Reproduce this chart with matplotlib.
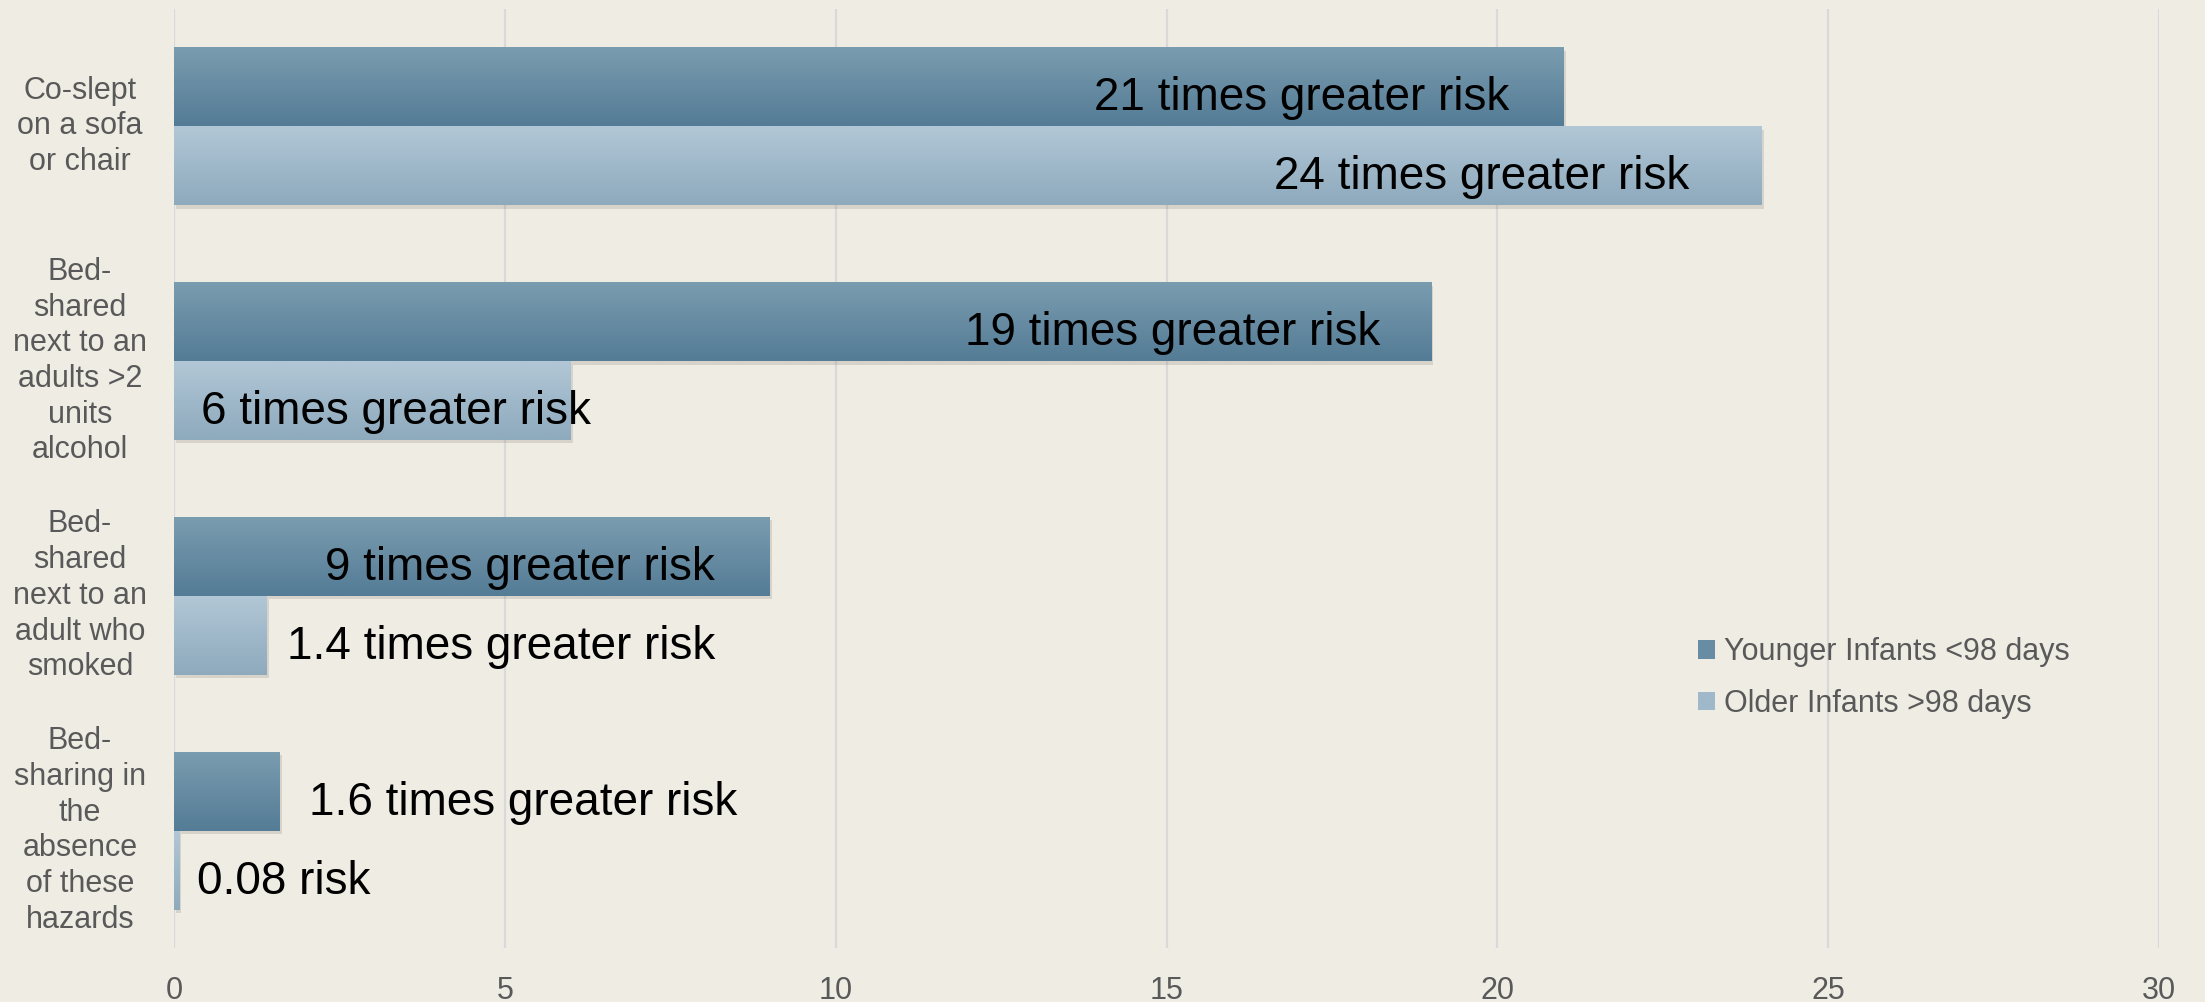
import numpy as np
import matplotlib.pyplot as plt
from matplotlib import patheffects
from matplotlib.patches import Patch

plt.rcParams['font.family'] = ['Liberation Sans', 'DejaVu Sans']

categories = [
    'Co-slept\non a sofa\nor chair',
    'Bed-\nshared\nnext to an\nadults >2\nunits\nalcohol',
    'Bed-\nshared\nnext to an\nadult who\nsmoked',
    'Bed-\nsharing in\nthe\nabsence\nof these\nhazards',
]
younger = [21, 19, 9, 1.6]
older = [24, 6, 1.4, 0.08]
series_names = ['Younger Infants <98 days', 'Older Infants >98 days']

# left edge of each data label, in axis units
label_x_young = [13.9, 11.95, 2.28, 2.04]
label_x_old = [16.62, 0.41, 1.71, 0.35]

bg = '#EFECE4'
grey_text = '#595959'
dark_top, dark_bot = np.array([122, 156, 175]) / 255, np.array([84, 124, 150]) / 255
light_top, light_bot = np.array([177, 199, 214]) / 255, np.array([142, 170, 189]) / 255


def risk_label(v):
    if v < 0.5:
        return f'{v:g} risk'
    return f'{v:g} times greater risk'


fig = plt.figure(figsize=(22.05, 10.02), dpi=100, facecolor=bg)
ax = fig.add_axes([174 / 2205, 1 - 948 / 1002, 1985 / 2205, 939 / 1002])
ax.set_facecolor(bg)

y = np.arange(len(categories))
h = 0.336
shadow = [patheffects.SimplePatchShadow(offset=(1.5, -2.5), shadow_rgbFace='#6b6355', alpha=0.18),
          patheffects.Normal()]

bars_young = ax.barh(y - h / 2, younger, height=h, color=dark_bot, zorder=2, path_effects=shadow)
bars_old = ax.barh(y + h / 2, older, height=h, color=light_bot, zorder=2, path_effects=shadow)


def shade(bars, top, bot):
    t = np.linspace(0, 1, 64)[:, None, None]
    grad = top * (1 - t) + bot * t
    for b in bars:
        x0, y0, w, hh = b.get_x(), b.get_y(), b.get_width(), b.get_height()
        im = ax.imshow(grad, extent=(x0, x0 + w, y0 + hh, y0), origin='upper',
                       aspect='auto', interpolation='bilinear', zorder=3)
        im.set_clip_path(b)


shade(bars_young, dark_top, dark_bot)
shade(bars_old, light_top, light_bot)

ax.set_xlim(0, 30)
ax.set_ylim(len(categories) - 0.5, -0.5)
ax.set_xticks(range(0, 31, 5))
ax.grid(axis='x', color='#D9D9D9', linewidth=1.6, zorder=0)
ax.set_axisbelow(True)
for s in ax.spines.values():
    s.set_visible(False)
ax.tick_params(axis='x', length=0, pad=20, labelsize=22, labelcolor=grey_text)
ax.set_yticks([])

for i, cat in enumerate(categories):
    ax.text(-94 / 1985, i, cat, transform=ax.get_yaxis_transform(), ha='center',
            va='center', multialignment='center', fontsize=22, color=grey_text,
            linespacing=1.25)

for i in range(len(categories)):
    ax.text(label_x_young[i], i - h / 2 + 0.1, risk_label(younger[i]), fontsize=33,
            ha='left', va='baseline', color='black', zorder=5)
    ax.text(label_x_old[i], i + h / 2 + 0.1, risk_label(older[i]), fontsize=33,
            ha='left', va='baseline', color='black', zorder=5)

handles = [Patch(facecolor=(dark_top + dark_bot) / 2), Patch(facecolor=(light_top + light_bot) / 2)]
ax.legend(handles, series_names, loc='center left', bbox_to_anchor=(1698 / 2205, 1 - 678 / 1002),
          bbox_transform=fig.transFigure, frameon=False, fontsize=22, labelcolor=grey_text,
          handlelength=0.56, handleheight=0.56, handletextpad=0.3, labelspacing=0.7,
          borderpad=0, borderaxespad=0)

fig.savefig('out.png', dpi=100, facecolor=bg)
